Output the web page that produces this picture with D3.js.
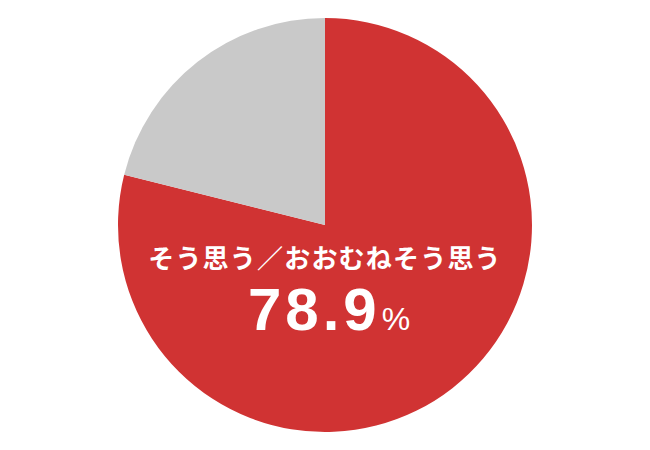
<!DOCTYPE html>
<html>
<head>
<meta charset="utf-8">
<script src="https://cdn.jsdelivr.net/npm/d3@7"></script>
<style>
  html, body { margin: 0; padding: 0; background: #fff; }
</style>
</head>
<body>
<div id="chart"></div>
<script>
// ── Data ──
const categories = ['そう思う／おおむねそう思う', 'その他'];
const values = [78.9, 21.1];
const colors = ['#d03333', '#c9c9c9'];

const W = 650, H = 450;
const CX = 325, CY = 225, R = 207;

const svg = d3.select('#chart').append('svg')
  .attr('width', W)
  .attr('height', H)
  .style('font-family', '"Noto Sans CJK JP", "Noto Sans", sans-serif');

const g = svg.append('g').attr('transform', `translate(${CX},${CY})`);

const pie = d3.pie().sort(null).value(d => d);
const arc = d3.arc().innerRadius(0).outerRadius(R);

g.selectAll('path')
  .data(pie(values))
  .enter()
  .append('path')
  .attr('d', arc)
  .attr('fill', (d, i) => colors[i]);

// ── Label inside red slice ──
g.append('text')
  .attr('x', 0)
  .attr('y', 43)
  .attr('text-anchor', 'middle')
  .attr('fill', '#fff')
  .attr('font-size', '26px')
  .attr('font-weight', '700')
  .attr('letter-spacing', '1.2px')
  .text(categories[0]);

const pct = g.append('text')
  .attr('x', 4)
  .attr('y', 105)
  .attr('text-anchor', 'middle')
  .attr('fill', '#fff')
  .attr('font-family', '"Liberation Sans", Arial, sans-serif')
  .attr('font-weight', '700');

pct.append('tspan')
  .attr('font-size', '60px')
  .attr('letter-spacing', '4px')
  .text(d3.format('.1f')(values[0]));

pct.append('tspan')
  .attr('font-size', '32px')
  .attr('font-weight', '400')
  .attr('dx', '1')
  .text('%');
</script>
</body>
</html>
